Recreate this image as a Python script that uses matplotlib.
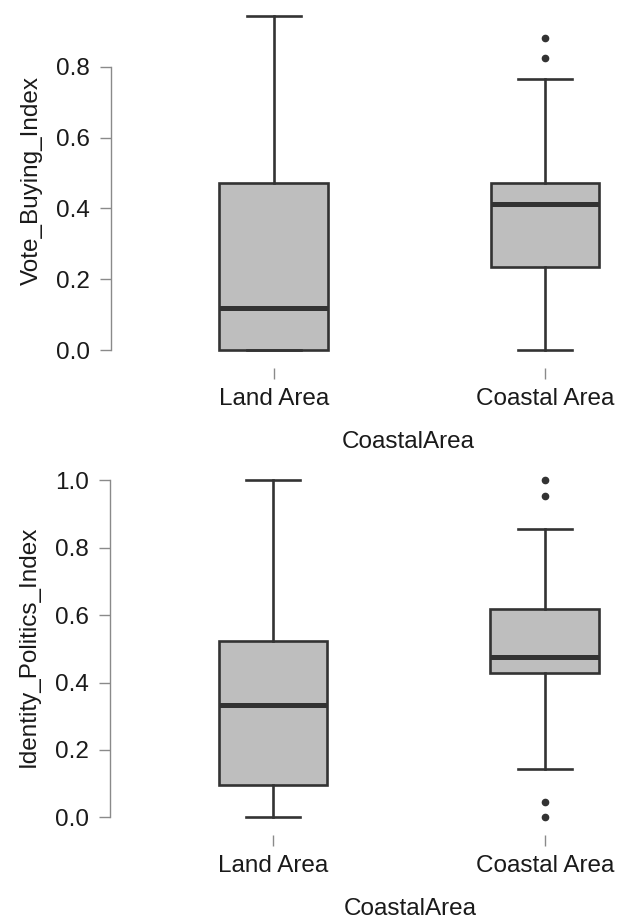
import matplotlib
matplotlib.use("Agg")
import matplotlib.pyplot as plt

plt.rcParams['font.family'] = ['Liberation Sans', 'DejaVu Sans']

groups = ["Land Area", "Coastal Area"]
xlabel = "CoastalArea"

# Vote_Buying_Index: (whislo, q1, med, q3, whishi)
vote_land = [0.0, 0.0, 0.118, 0.472, 0.943]
vote_coastal = [0.0, 0.235, 0.412, 0.472, 0.765]
vote_land_out = []
vote_coastal_out = [0.824, 0.883]

# Identity_Politics_Index
ident_land = [0.0, 0.096, 0.334, 0.522, 1.0]
ident_coastal = [0.143, 0.429, 0.477, 0.618, 0.856]
ident_land_out = []
ident_coastal_out = [0.954, 1.0, 0.046, 0.0]

vote_ticks = [0.0, 0.2, 0.4, 0.6, 0.8]
ident_ticks = [0.0, 0.2, 0.4, 0.6, 0.8, 1.0]

edge = "#333333"
fill = "#bebebe"
spine_col = "#8a8a8a"


def stats(name, s, out):
    return dict(label=name, whislo=s[0], q1=s[1], med=s[2], q3=s[3], whishi=s[4], fliers=out)


def panel(ax, data, ticks, ylim, ylab, xlab_x, ylab_x):
    ax.bxp(data, positions=[1, 2], widths=0.4, patch_artist=True,
           boxprops=dict(facecolor=fill, edgecolor=edge, linewidth=1.9),
           medianprops=dict(color=edge, linewidth=3.6, solid_capstyle="butt"),
           whiskerprops=dict(color=edge, linewidth=1.9),
           capprops=dict(color=edge, linewidth=1.9),
           flierprops=dict(marker="o", markerfacecolor=edge, markeredgecolor=edge, markersize=4.5))
    ax.set_xlim(0.4, 2.24)
    ax.set_ylim(*ylim)
    ax.set_yticks(ticks)
    ax.set_yticklabels(["%.1f" % t for t in ticks])
    for s in ["top", "right"]:
        ax.spines[s].set_visible(False)
    ax.spines["left"].set_bounds(ticks[0], ticks[-1])
    ax.spines["left"].set_color(spine_col)
    ax.spines["left"].set_linewidth(1.0)
    ax.spines["bottom"].set_color("none")
    ax.spines["bottom"].set_position(("outward", 9))
    ax.tick_params(axis="y", length=8, width=1.0, color=spine_col, pad=7, labelsize=17.5, labelcolor="#1a1a1a")
    ax.tick_params(axis="x", length=8, width=1.0, color=spine_col, pad=7, labelsize=17.5, labelcolor="#1a1a1a")
    ax.set_xticks([1, 2])
    ax.set_xticklabels(groups)
    ax.set_xlabel(xlabel, fontsize=17.5, color="#1a1a1a")
    ax.xaxis.set_label_coords(xlab_x, -0.217)
    ax.set_ylabel(ylab, fontsize=17.5, color="#1a1a1a")
    ax.yaxis.set_label_coords(ylab_x, 0.5)
    ax.set_facecolor("none")


fig = plt.figure(figsize=(6.18, 9.22), dpi=100)
ax1 = fig.add_axes([111 / 618, 1 - 355 / 922, 499 / 618, 350 / 922])
ax2 = fig.add_axes([110 / 618, 1 - 822 / 922, 500 / 618, 352 / 922])

panel(ax1, [stats(groups[0], vote_land, vote_land_out), stats(groups[1], vote_coastal, vote_coastal_out)],
      vote_ticks, (-0.014, 0.975), "Vote_Buying_Index", 0.595, -0.136)
panel(ax2, [stats(groups[0], ident_land, ident_land_out), stats(groups[1], ident_coastal, ident_coastal_out)],
      ident_ticks, (-0.014, 1.031), "Identity_Politics_Index", 0.6, -0.14)

fig.savefig("out.png", dpi=100)
